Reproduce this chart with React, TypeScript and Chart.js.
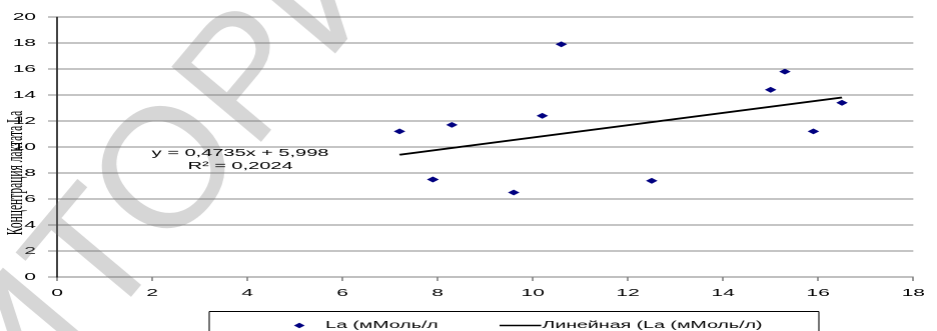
import React, { useEffect, useRef } from "react";
import { Chart, registerables } from "chart.js";

Chart.register(...registerables);

// ---- data ----
const xValues = [7.2, 7.9, 7.9, 8.3, 9.6, 10.2, 10.6, 12.5, 15.0, 15.3, 15.9, 16.5];
const yValues = [11.2, 7.5, 7.5, 11.7, 6.5, 12.4, 17.9, 7.4, 14.4, 15.8, 11.2, 13.4];
const trendSlope = 0.4735;
const trendIntercept = 5.998;
const equationLines = ["y = 0,4735x + 5,998", "R\u00b2 = 0,2024"];
const seriesLabel = "La (мМоль/л";
const trendLabel = "Линейная (La (мМоль/л)";
const yTitle = "Концентрация лактата La";
const xRange = [0, 18];
const yRange = [0, 20];
const tickStep = 2;
const watermarkText = "РЕПОЗИТОРИЙ";

// ---- layout (the original picture is stretched horizontally) ----
const OUT_W = 937;
const H = 331;
const W = 468;
const S = OUT_W / W;

const SANS = "'Liberation Sans', Arial, sans-serif";
const SERIF = "'Liberation Serif', 'Times New Roman', serif";

const decor = {
  id: "decor",
  beforeDatasetsDraw(chart: any) {
    const ctx = chart.ctx as CanvasRenderingContext2D;
    ctx.save();
    ctx.scale(1 / S, 1);
    ctx.fillStyle = "rgba(120,120,120,0.3)";
    ctx.font = `170px ${SANS}`;
    (ctx as any).letterSpacing = "2px";
    ctx.translate(178, 168);
    ctx.rotate((-50 * Math.PI) / 180);
    const pre = ctx.measureText("РЕПОЗИТ").width;
    const ow = ctx.measureText("О").width;
    ctx.textBaseline = "middle";
    ctx.textAlign = "left";
    ctx.fillText(watermarkText, -(pre + ow / 2), 0);
    ctx.restore();
  },
  afterDraw(chart: any) {
    const ctx = chart.ctx as CanvasRenderingContext2D;
    // trend equation
    ctx.save();
    ctx.fillStyle = "#000";
    ctx.font = `10px ${SANS}`;
    ctx.textAlign = "center";
    ctx.textBaseline = "middle";
    ctx.fillText(equationLines[0], 120, 153);
    ctx.fillText(equationLines[1], 120, 166);
    ctx.restore();

    // y axis title
    ctx.save();
    ctx.fillStyle = "#000";
    ctx.font = `11.5px ${SERIF}`;
    ctx.translate(8.2, 173);
    ctx.rotate(-Math.PI / 2);
    ctx.textAlign = "center";
    ctx.textBaseline = "middle";
    ctx.fillText(yTitle, 0, 0);
    ctx.restore();

    // legend box
    const ds0 = chart.data.datasets[0];
    const ds1 = chart.data.datasets[1];
    ctx.save();
    ctx.strokeStyle = "#000";
    ctx.lineWidth = 1;
    ctx.beginPath();
    ctx.moveTo(104.5, 311.5);
    ctx.lineTo(409, 311.5);
    ctx.stroke();
    ctx.lineWidth = 0.55;
    ctx.beginPath();
    ctx.moveTo(104.5, 311.5);
    ctx.lineTo(104.5, H + 2);
    ctx.moveTo(409, 311.5);
    ctx.lineTo(409, H + 2);
    ctx.stroke();

    const ly = 325.5;
    ctx.fillStyle = ds0.pointBackgroundColor;
    ctx.beginPath();
    ctx.moveTo(149.5 - 2.7, ly);
    ctx.lineTo(149.5, ly - 2.7);
    ctx.lineTo(149.5 + 2.7, ly);
    ctx.lineTo(149.5, ly + 2.7);
    ctx.closePath();
    ctx.fill();

    ctx.strokeStyle = ds1.borderColor;
    ctx.lineWidth = 1.4;
    ctx.beginPath();
    ctx.moveTo(249.5, ly);
    ctx.lineTo(270.3, ly);
    ctx.stroke();

    ctx.fillStyle = "#000";
    ctx.font = `9.8px ${SANS}`;
    ctx.textAlign = "left";
    ctx.textBaseline = "middle";
    ctx.fillText(ds0.label, 162.5, ly);
    ctx.fillText(ds1.label, 270.8, ly);
    ctx.restore();
  },
};

export default function App() {
  const ref = useRef<HTMLCanvasElement>(null);

  useEffect(() => {
    document.body.style.margin = "0";
    const canvas = ref.current;
    if (!canvas) return;
    const xmin = Math.min(...xValues);
    const xmax = Math.max(...xValues);
    const chart = new Chart(canvas, {
      type: "scatter",
      data: {
        datasets: [
          {
            label: seriesLabel,
            data: xValues.map((x, i) => ({ x, y: yValues[i] })),
            pointStyle: "rectRot",
            pointRadius: 2.9,
            pointBorderWidth: 0,
            pointBackgroundColor: "#000080",
            pointBorderColor: "#000080",
            showLine: false,
          } as any,
          {
            label: trendLabel,
            data: [xmin, xmax].map((x) => ({ x, y: trendSlope * x + trendIntercept })),
            showLine: true,
            borderColor: "#000000",
            borderWidth: 1.8,
            pointRadius: 0,
            fill: false,
            tension: 0,
          } as any,
        ],
      },
      options: {
        animation: false,
        responsive: true,
        maintainAspectRatio: false,
        devicePixelRatio: 2,
        layout: { padding: { top: 17, right: 5.5, left: 0, bottom: 0 } },
        plugins: {
          legend: { display: false },
          tooltip: { enabled: false },
        },
        scales: {
          x: {
            type: "linear",
            min: xRange[0],
            max: xRange[1],
            afterFit: (s: any) => {
              s.height = 54;
            },
            ticks: {
              stepSize: tickStep,
              padding: 6,
              color: "#000",
              maxRotation: 0,
              autoSkip: false,
              font: { family: SANS, size: 10.5 },
            },
            grid: {
              drawOnChartArea: false,
              drawTicks: true,
              tickLength: 4,
              color: "#555",
              lineWidth: 0.6,
            },
            border: { display: true, color: "#808080", width: 1 },
          },
          y: {
            type: "linear",
            min: yRange[0],
            max: yRange[1],
            afterFit: (s: any) => {
              s.width = 28.5;
            },
            ticks: {
              stepSize: tickStep,
              padding: 6,
              color: "#000",
              font: { family: SANS, size: 10.5 },
            },
            grid: {
              color: "#8a8a8a",
              lineWidth: 1,
              tickLength: 4.5,
              drawTicks: true,
            },
            border: { display: true, color: "#000", width: 0.75 },
          },
        },
      },
      plugins: [decor],
    });
    return () => chart.destroy();
  }, []);

  return (
    <div style={{ width: OUT_W, height: H, overflow: "hidden", background: "#fff", position: "relative" }}>
      <div
        style={{
          width: W,
          height: H,
          transform: `scaleX(${S})`,
          transformOrigin: "0 0",
          position: "absolute",
          left: 0,
          top: 0,
        }}
      >
        <canvas ref={ref} />
      </div>
    </div>
  );
}
